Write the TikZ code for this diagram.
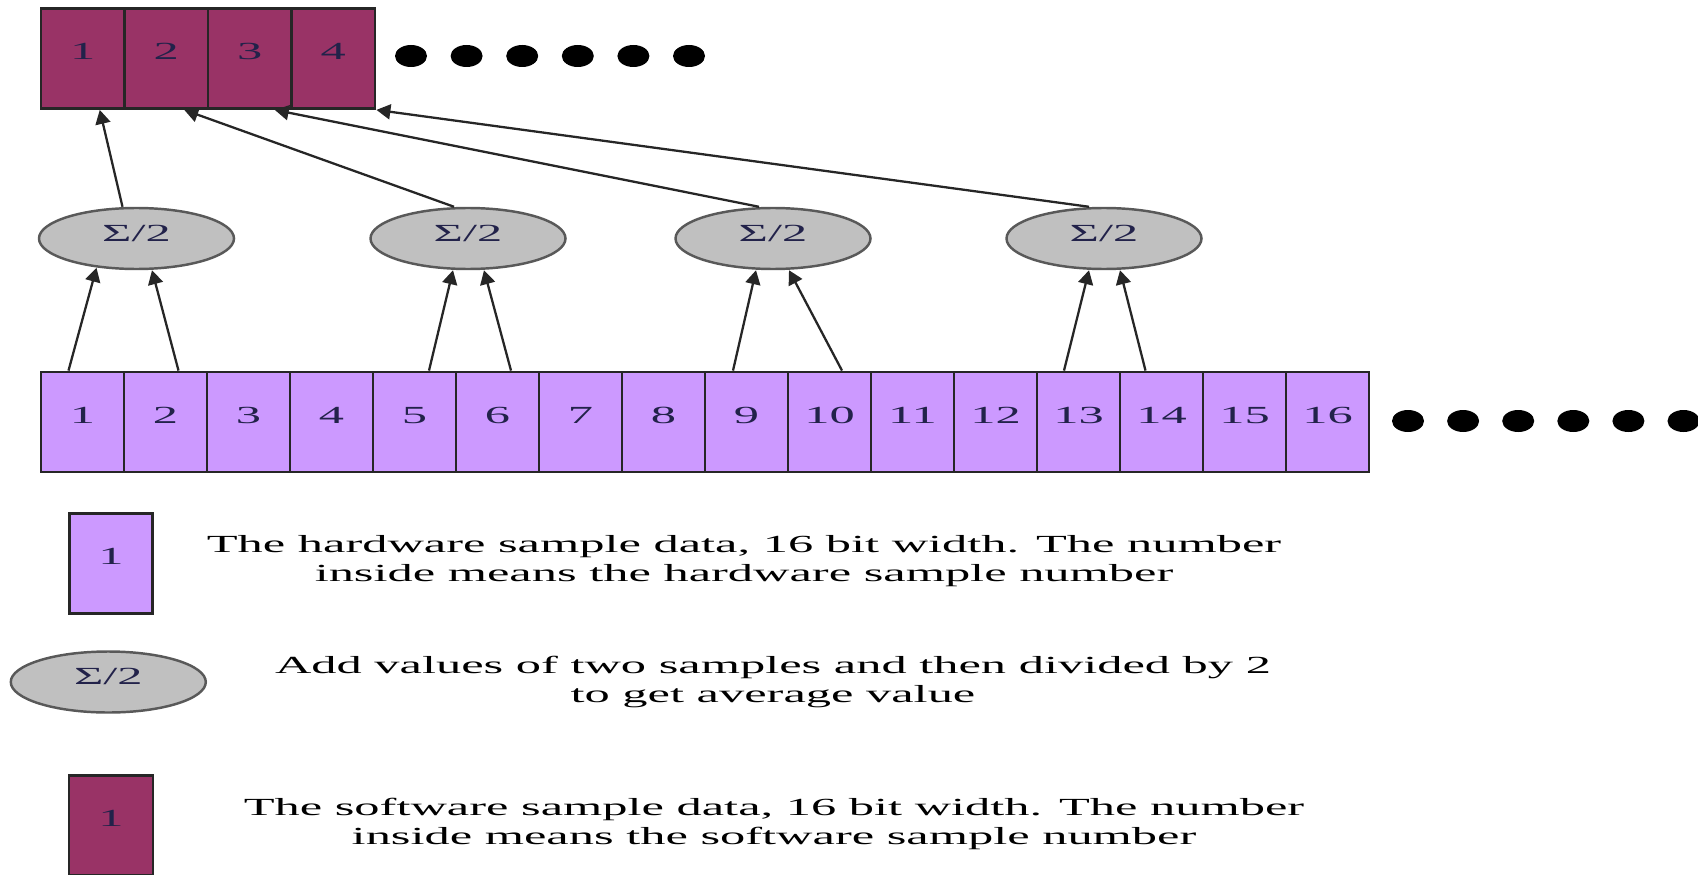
\documentclass[tikz,border=0pt]{standalone}
\usepackage{fontspec}
\setmainfont{Liberation Serif}[FakeStretch=2.05]
\usepackage{xcolor}
\usepackage{tikz}
\usetikzlibrary{arrows.meta, positioning}
\usetikzlibrary{shapes.geometric}
\usetikzlibrary{calc}

\definecolor{hwfill}{HTML}{CC99FF}
\definecolor{swfill}{HTML}{993366}
\definecolor{avgfill}{HTML}{C0C0C0}
\definecolor{numtext}{HTML}{22224A}

\begin{document}
\begin{tikzpicture}[
    small/.style={font=\fontsize{7}{8.1}\selectfont},
    hw/.style={rectangle,draw=black!85,line width=0.8pt,fill=hwfill,
      minimum width=0.83cm,minimum height=1cm,inner sep=0pt,small,text=numtext,
      text depth=0.14cm},
    sw/.style={hw,fill=swfill,minimum width=0.835cm},
    avg/.style={ellipse,draw=black!65,line width=0.7pt,fill=avgfill,
      minimum width=1.95cm,minimum height=0.61cm,inner sep=0pt,small,text=numtext,
      text depth=0.11cm},
    arr/.style={-{Triangle[length=0.14cm,width=0.15cm]},line width=0.65pt,draw=black!85},
    note/.style={align=center,small,inner sep=0pt}
  ]
\useasboundingbox (0,0) rectangle (16.98,-8.75);

% software samples
\foreach \i in {1,...,4}
  \node[sw] (s\i) at ({0.8275+0.835*(\i-1)},-0.585) {\i};
\foreach \k in {0,...,5}
  \fill ({4.11+0.556*\k},-0.56) ellipse [x radius=0.16, y radius=0.11];

% averaging
\node[avg] (e1) at (1.365,-2.385) {Σ/2};
\node[avg] (e2) at (4.68,-2.385) {Σ/2};
\node[avg] (e3) at (7.73,-2.385) {Σ/2};
\node[avg] (e4) at (11.04,-2.385) {Σ/2};

% hardware samples
\foreach \i in {1,...,16}
  \node[hw] (h\i) at ({0.825+0.83*(\i-1)},-4.22) {\i};
\foreach \k in {0,...,5}
  \fill ({14.08+0.551*\k},-4.21) ellipse [x radius=0.16, y radius=0.11];

\draw[arr] ($(h1.north)+(-0.14,0)$) -- ($(e1.south)+(-0.40,0.025)$);
\draw[arr] ($(h2.north)+(0.13,0)$) -- ($(e1.south)+(0.155,0)$);
\draw[arr] ($(h5.north)+(0.145,0)$) -- ($(e2.south)+(-0.15,0)$);
\draw[arr] ($(h6.north)+(0.135,0)$) -- ($(e2.south)+(0.16,0)$);
\draw[arr] ($(h9.north)+(-0.135,0)$) -- ($(e3.south)+(-0.17,0)$);
\draw[arr] ($(h10.north)+(0.125,0)$) -- ($(e3.south)+(0.16,0)$);
\draw[arr] ($(h13.north)+(-0.145,0)$) -- ($(e4.south)+(-0.15,0)$);
\draw[arr] ($(h14.north)+(-0.16,0)$) -- ($(e4.south)+(0.16,0)$);

\draw[arr] ($(e1.north)+(-0.14,0)$) -- ($(s1.south)+(0.17,0)$);
\draw[arr] ($(e2.north)+(-0.14,0)$) -- ($(s2.south)+(0.18,0)$);
\draw[arr] ($(e3.north)+(-0.14,0)$) -- ($(s3.south)+(0.25,0)$);
\draw[arr] ($(e4.north)+(-0.15,0)$) -- (s4.south east);

% legend
\node[hw] (lh) at (1.11,-5.635) {1};
\node[note] (th) at (7.44,-5.61) {The hardware sample data, 16 bit width. The number\\inside means the hardware sample number};
\node[avg] (le) at (1.083,-6.82) {Σ/2};
\node[note] (ta) at (7.73,-6.82) {Add values of two samples and then divided by 2\\to get average value};
\node[sw,minimum width=0.84cm] (ls) at (1.11,-8.255) {1};
\node[note] (ts) at (7.74,-8.24) {The software sample data, 16 bit width. The number\\inside means the software sample number};
\end{tikzpicture}
\end{document}
